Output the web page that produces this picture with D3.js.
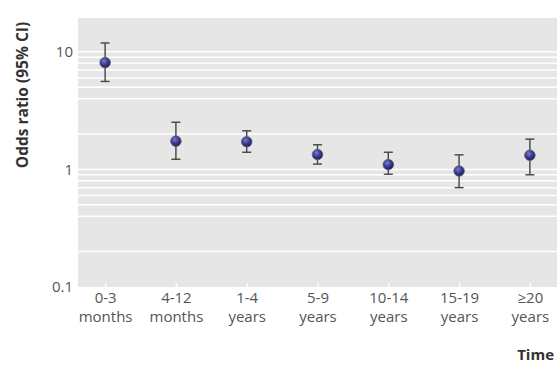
<!DOCTYPE html>
<html>
<head>
<meta charset="utf-8">
<script src="https://cdn.jsdelivr.net/npm/d3@7"></script>
<style>
  body { margin: 0; background: #fff; }
  text { font-family: "Open Sans", "Noto Sans", sans-serif; }
</style>
</head>
<body>
<div class="container"></div>
<script>
var categories = ['0-3|months', '4-12|months', '1-4|years', '5-9|years', '10-14|years', '15-19|years', '\u226520|years'];
var oddsRatio = [8.1, 1.74, 1.72, 1.34, 1.10, 0.97, 1.32];
var lowerCI = [5.6, 1.22, 1.40, 1.11, 0.91, 0.70, 0.90];
var upperCI = [11.9, 2.52, 2.13, 1.62, 1.40, 1.33, 1.81];
var yTicks = [0.1, 1, 10];
var gridValues = [10, 9, 8, 7, 6, 5, 4, 2, 1, 0.9, 0.8, 0.7, 0.6, 0.5, 0.4, 0.2];

var drawChart = function () {
    var WIDTH = 557, HEIGHT = 365;
    var LEFT = 78, RIGHT = 557, TOP = 18, BOTTOM = 287;

    var svg = d3.select('.container').append('svg')
        .attr('width', WIDTH)
        .attr('height', HEIGHT);

    var defs = svg.append('defs');
    var grad = defs.append('radialGradient')
        .attr('id', 'ball')
        .attr('cx', '40%').attr('cy', '35%').attr('r', '65%');
    grad.append('stop').attr('offset', '0%').attr('stop-color', '#7b7bd0');
    grad.append('stop').attr('offset', '55%').attr('stop-color', '#3a3a92');
    grad.append('stop').attr('offset', '100%').attr('stop-color', '#1c1c5c');

    var xScale = d3.scalePoint()
        .domain(categories)
        .range([LEFT, RIGHT])
        .padding(0.383);

    var yScale = d3.scaleLog()
        .domain([0.1, 19.4])
        .range([BOTTOM, TOP]);

    // panel
    svg.append('rect')
        .attr('x', LEFT).attr('y', TOP)
        .attr('width', RIGHT - LEFT).attr('height', BOTTOM - TOP)
        .attr('fill', '#e6e6e6');

    svg.append('g').selectAll('line')
        .data(gridValues)
        .enter().append('line')
        .attr('x1', LEFT).attr('x2', RIGHT)
        .attr('y1', function (d) { return yScale(d); })
        .attr('y2', function (d) { return yScale(d); })
        .attr('stroke', '#fff')
        .attr('stroke-width', 1.5);

    // y axis
    var yAxis = d3.axisLeft(yScale)
        .tickValues(yTicks)
        .tickFormat(function (d) { return String(d); })
        .tickSize(0)
        .tickPadding(5);

    var yg = svg.append('g')
        .attr('transform', 'translate(' + LEFT + ',0)')
        .call(yAxis);
    yg.select('.domain').remove();
    yg.selectAll('text')
        .attr('fill', '#555')
        .style('font-size', '15px');

    // x axis
    var xAxis = d3.axisBottom(xScale).tickSize(0).tickPadding(0);
    var xg = svg.append('g')
        .attr('transform', 'translate(0,' + BOTTOM + ')')
        .call(xAxis);
    xg.select('.domain').remove();
    xg.selectAll('.tick').append('line')
        .attr('y1', -4).attr('y2', 0)
        .attr('stroke', '#fff')
        .attr('stroke-width', 1.5);
    xg.selectAll('.tick text').each(function (d) {
        var parts = d.split('|');
        var t = d3.select(this).text(null)
            .attr('y', 0).attr('dy', null)
            .attr('fill', '#555')
            .style('font-size', '15px');
        t.append('tspan').attr('x', 0).attr('y', 16).text(parts[0]);
        t.append('tspan').attr('x', 0).attr('y', 35).text(parts[1]);
    });

    // error bars
    var bars = svg.append('g').selectAll('g')
        .data(categories)
        .enter().append('g')
        .attr('stroke', '#444')
        .attr('stroke-width', 1.4);
    bars.append('line')
        .attr('x1', function (d) { return xScale(d); })
        .attr('x2', function (d) { return xScale(d); })
        .attr('y1', function (d, i) { return yScale(lowerCI[i]); })
        .attr('y2', function (d, i) { return yScale(upperCI[i]); });
    bars.append('line')
        .attr('x1', function (d) { return xScale(d) - 4.5; })
        .attr('x2', function (d) { return xScale(d) + 4.5; })
        .attr('y1', function (d, i) { return yScale(lowerCI[i]); })
        .attr('y2', function (d, i) { return yScale(lowerCI[i]); });
    bars.append('line')
        .attr('x1', function (d) { return xScale(d) - 4.5; })
        .attr('x2', function (d) { return xScale(d) + 4.5; })
        .attr('y1', function (d, i) { return yScale(upperCI[i]); })
        .attr('y2', function (d, i) { return yScale(upperCI[i]); });

    // points
    svg.append('g').selectAll('circle')
        .data(categories)
        .enter().append('circle')
        .attr('cx', function (d) { return xScale(d); })
        .attr('cy', function (d, i) { return yScale(oddsRatio[i]); })
        .attr('r', 5.3)
        .attr('fill', 'url(#ball)')
        .attr('stroke', '#666')
        .attr('stroke-width', 0.8);

    // axis titles
    svg.append('text')
        .attr('transform', 'translate(28,95) rotate(-90)')
        .attr('text-anchor', 'middle')
        .attr('fill', '#333')
        .style('font-size', '15.5px')
        .style('font-weight', 'bold')
        .text('Odds ratio (95% CI)');

    svg.append('text')
        .attr('x', 554).attr('y', 360)
        .attr('text-anchor', 'end')
        .attr('fill', '#333')
        .style('font-size', '15px')
        .style('font-weight', 'bold')
        .text('Time');
};

window.onload = drawChart;
</script>
</body>
</html>
